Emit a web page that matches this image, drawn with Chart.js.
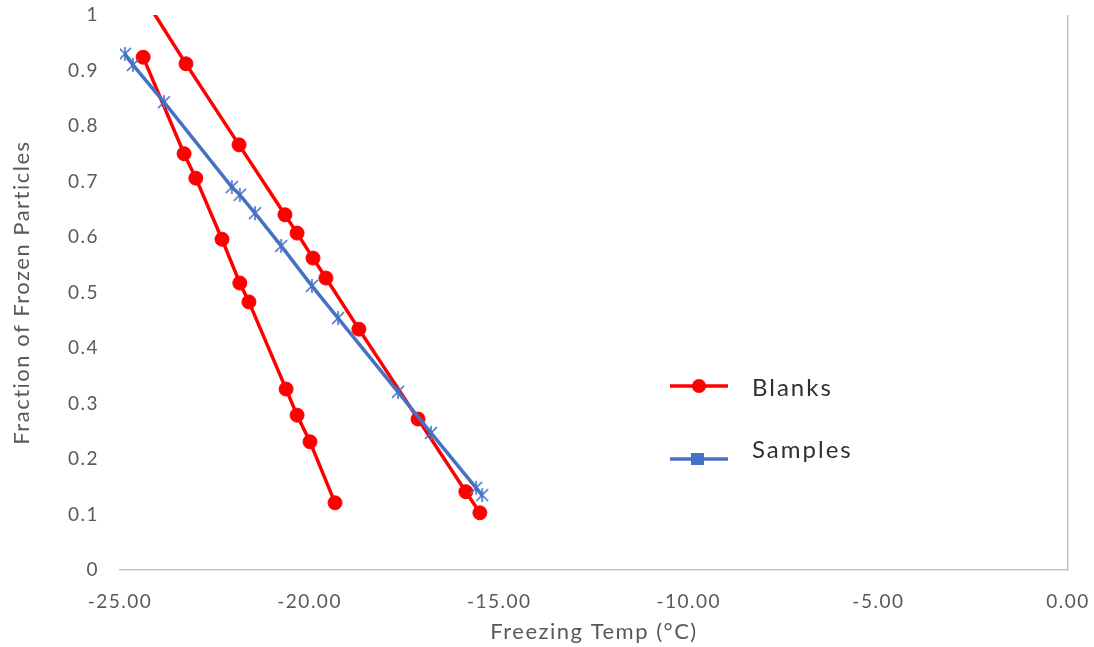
<!DOCTYPE html>
<html>
<head>
<meta charset="utf-8">
<script src="https://cdn.jsdelivr.net/npm/chart.js@4"></script>
<style>
  html, body { margin: 0; padding: 0; background: #fff; }
  #wrap { width: 1094px; height: 647px; }
</style>
</head>
<body>
<div id="wrap"><canvas id="chart" width="1094" height="647"></canvas></div>
<script>
// values
const blanksTempA = [-24.40, -23.26, -21.86, -20.65, -20.33, -19.91, -19.57, -18.70, -17.14, -15.88, -15.51];
const blanksFracA = [1.035, 0.912, 0.766, 0.640, 0.607, 0.562, 0.526, 0.434, 0.272, 0.141, 0.103];
const blanksTempB = [-24.39, -23.31, -23.00, -22.31, -21.84, -21.60, -20.62, -20.33, -19.99, -19.33];
const blanksFracB = [0.924, 0.750, 0.706, 0.596, 0.517, 0.483, 0.326, 0.279, 0.231, 0.121];
const samplesTemp = [-24.87, -24.66, -23.84, -22.05, -21.84, -21.44, -20.75, -19.94, -19.25, -17.67, -16.80, -15.61, -15.45];
const samplesFrac = [0.930, 0.910, 0.843, 0.690, 0.676, 0.643, 0.584, 0.512, 0.454, 0.321, 0.247, 0.148, 0.135];
const xTicks = [-25, -20, -15, -10, -5, 0];
const yTicks = [0, 0.1, 0.2, 0.3, 0.4, 0.5, 0.6, 0.7, 0.8, 0.9, 1];

const RED = '#ff0000';
const BLUE = '#4472c4';
const GREY_TXT = '#595959';
const FONT = 'Lato, "Open Sans", sans-serif';

function pts(xs, ys) {
  return xs.map((x, i) => ({ x: x, y: ys[i] }));
}

// excel style star: an x with a vertical bar
function makeStar() {
  const c = document.createElement('canvas');
  c.width = 16; c.height = 16;
  const g = c.getContext('2d');
  g.strokeStyle = BLUE;
  g.lineWidth = 1.6;
  g.beginPath();
  g.moveTo(2, 2); g.lineTo(14, 14);
  g.moveTo(14, 2); g.lineTo(2, 14);
  g.moveTo(8, 1); g.lineTo(8, 15);
  g.stroke();
  return c;
}
const starImg = makeStar();

// the original text is a bit wider than Lato, so space it out a little
const textSpacing = {
  id: 'textSpacing',
  beforeDraw(chart) { chart.ctx.letterSpacing = '1.5px'; }
};

// legend drawn inside the plot like the original
const sideLegend = {
  id: 'sideLegend',
  afterDraw(chart) {
    const ctx = chart.ctx;
    const items = [
      { text: 'Blanks', color: RED, lineY: 386, textY: 388, marker: 'circle' },
      { text: 'Samples', color: BLUE, lineY: 459, textY: 450, marker: 'square' }
    ];
    ctx.save();
    items.forEach(it => {
      ctx.strokeStyle = it.color;
      ctx.lineWidth = 3.5;
      ctx.beginPath();
      ctx.moveTo(670, it.lineY);
      ctx.lineTo(728, it.lineY);
      ctx.stroke();
      ctx.fillStyle = it.color;
      if (it.marker === 'circle') {
        ctx.beginPath();
        ctx.arc(699, it.lineY, 7, 0, Math.PI * 2);
        ctx.fill();
      } else {
        ctx.fillRect(691, it.lineY - 6, 13, 12);
      }
      ctx.fillStyle = '#303030';
      ctx.font = '24px ' + FONT;
      ctx.letterSpacing = '2px';
      ctx.textBaseline = 'middle';
      ctx.textAlign = 'left';
      ctx.fillText(it.text, 752, it.textY);
    });
    ctx.restore();
    ctx.letterSpacing = '0px';
  }
};

new Chart(document.getElementById('chart'), {
  type: 'line',
  data: {
    datasets: [
      {
        label: 'Blanks',
        data: pts(blanksTempA, blanksFracA),
        borderColor: RED,
        backgroundColor: RED,
        borderWidth: 3.5,
        pointRadius: 7,
        pointBorderWidth: 1,
        pointStyle: 'circle',
        order: 1
      },
      {
        label: 'Blanks',
        data: pts(blanksTempB, blanksFracB),
        borderColor: RED,
        backgroundColor: RED,
        borderWidth: 3.5,
        pointRadius: 7,
        pointBorderWidth: 1,
        pointStyle: 'circle',
        order: 1
      },
      {
        label: 'Samples',
        data: pts(samplesTemp, samplesFrac),
        borderColor: BLUE,
        backgroundColor: BLUE,
        borderWidth: 3.5,
        pointStyle: starImg,
        pointRadius: 7,
        order: 0
      }
    ]
  },
  options: {
    responsive: false,
    devicePixelRatio: 1,
    animation: false,
    layout: { padding: { top: 15, right: 26, left: 0, bottom: 0 } },
    plugins: {
      legend: { display: false },
      tooltip: { enabled: false }
    },
    scales: {
      x: {
        type: 'linear',
        min: -25,
        max: 0,
        afterBuildTicks: s => { s.ticks = xTicks.map(v => ({ value: v })); },
        afterFit: s => { s.height = 77; s.paddingLeft = 0; s.paddingRight = 0; },
        ticks: {
          padding: 20,
          color: GREY_TXT,
          font: { family: FONT, size: 19 },
          callback: v => Number(v).toFixed(2)
        },
        grid: {
          drawTicks: false,
          lineWidth: 1.5,
          color: c => (c.tick && c.tick.value === 0) ? '#c4c4c4' : 'rgba(0,0,0,0)'
        },
        border: { display: true, color: '#c4c4c4', width: 1.5 },
        title: {
          display: true,
          text: 'Freezing Temp (°C)',
          color: GREY_TXT,
          font: { family: FONT, size: 22 },
          padding: { top: 2, bottom: 2 }
        }
      },
      y: {
        min: 0,
        max: 1,
        position: 'left',
        afterBuildTicks: s => { s.ticks = yTicks.map(v => ({ value: v })); },
        afterFit: s => { s.width = 120; s.paddingTop = 0; s.paddingBottom = 0; },
        ticks: {
          padding: 21,
          color: GREY_TXT,
          font: { family: FONT, size: 19 },
          callback: v => String(parseFloat(Number(v).toFixed(1)))
        },
        grid: { display: false, drawTicks: false },
        border: { display: false },
        title: {
          display: true,
          text: 'Fraction of Frozen Particles',
          color: GREY_TXT,
          font: { family: FONT, size: 22 },
          padding: { top: 9, bottom: 10 }
        }
      }
    }
  },
  plugins: [textSpacing, sideLegend]
});
</script>
</body>
</html>
